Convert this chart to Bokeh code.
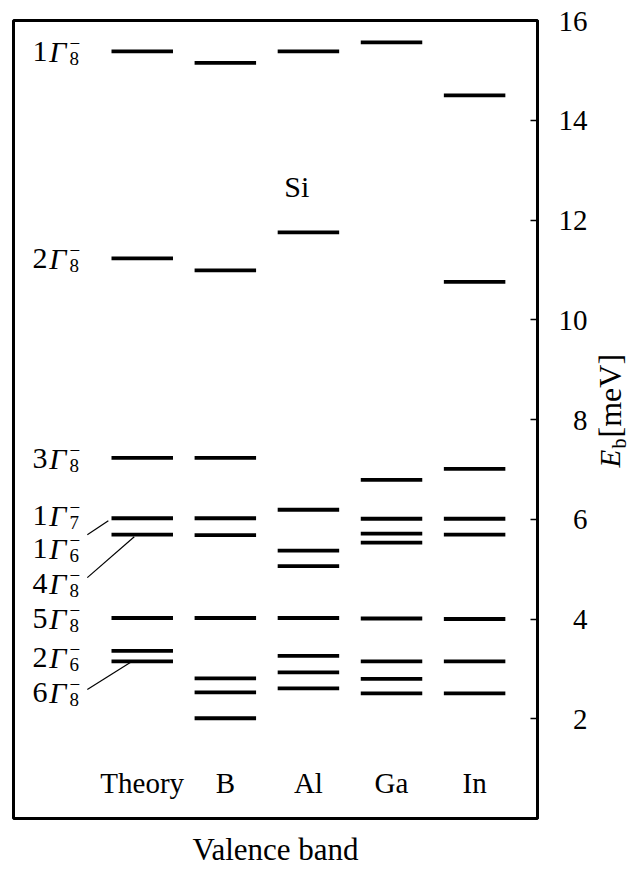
import math
from bokeh.plotting import figure
from bokeh.models import Range1d, FixedTicker
from bokeh.layouts import row
from bokeh.core.properties import value
from bokeh.embed import file_html
from bokeh.resources import INLINE

# ---------------- data ----------------
categories = ["Theory", "B", "Al", "Ga", "In"]
theory_levels = [15.38, 11.23, 7.23, 6.02, 5.69, 4.02, 3.36, 3.15]
b_levels = [15.15, 10.99, 7.23, 6.02, 5.68, 4.02, 2.81, 2.53, 2.01]
al_levels = [15.38, 11.75, 6.19, 5.37, 5.06, 4.02, 3.26, 2.93, 2.61]
ga_levels = [15.56, 6.79, 6.01, 5.71, 5.53, 4.01, 3.15, 2.80, 2.51]
in_levels = [14.50, 10.76, 7.01, 6.01, 5.69, 4.00, 3.15, 2.51]

state_numbers = ["1", "2", "3", "1", "1", "4", "5", "2", "6"]
state_subscripts = ["8", "8", "8", "7", "6", "8", "8", "6", "8"]
state_label_E = [15.38, 11.22, 7.22, 6.08, 5.42, 4.72, 4.02, 3.22, 2.52]

# leader lines: label end (x0, y0) -> theory level (x1, y1)
leader_x0 = [0.339, 0.339, 0.339]
leader_y0 = [5.69, 4.83, 2.585]
leader_x1 = [0.592, 0.904, 0.856]
leader_y1 = [5.97, 5.65, 3.126]

y_ticks = [2, 4, 6, 8, 10, 12, 14, 16]
y_axis_title = ["E", "b", "[meV]"]
x_axis_title = "Valence band"
material = "Si"

FONT = "Liberation Serif"
TOP, BOTTOM = 20, 52
H = 870

# ---------------- main figure ----------------
p = figure(width=590, height=H,
           x_range=Range1d(-0.5495, 5.757), y_range=Range1d(0, 16),
           x_axis_location="below", y_axis_location="right",
           output_backend="svg", toolbar_location=None,
           min_border_left=13, min_border_top=TOP,
           min_border_right=52, min_border_bottom=BOTTOM)
p.background_fill_color = "white"
p.border_fill_color = "white"
p.outline_line_color = "black"
p.outline_line_width = 3
p.grid.grid_line_color = None

ax = p.yaxis[0]
ax.ticker = FixedTicker(ticks=y_ticks)
ax.major_label_overrides = {t: (str(t) if t >= 10 else "\u2007" + str(t)) for t in y_ticks}
ax.axis_line_width = 3
ax.axis_line_color = "black"
ax.major_tick_in = 7
ax.major_tick_out = 0
ax.major_tick_line_width = 1.5
ax.minor_tick_line_color = None
ax.major_label_standoff = 21
ax.major_label_text_font = FONT
ax.major_label_text_font_size = "29px"
ax.major_label_text_color = "black"

bx = p.xaxis[0]
bx.ticker = FixedTicker(ticks=[])
bx.axis_line_color = None
bx.major_tick_line_color = None
bx.minor_tick_line_color = None
bx.major_label_text_font_size = "0px"
bx.axis_label = x_axis_title
bx.axis_label_text_font = FONT
bx.axis_label_text_font_size = "31px"
bx.axis_label_text_font_style = "normal"
bx.axis_label_text_color = "black"
bx.axis_label_standoff = 13

# levels
all_levels = [theory_levels, b_levels, al_levels, ga_levels, in_levels]
half = 0.37
xs0, xs1, ys = [], [], []
for i, lv in enumerate(all_levels):
    cx = i + 1
    for e in lv:
        xs0.append(cx - half)
        xs1.append(cx + half)
        ys.append(e)
p.segment(x0=xs0, y0=ys, x1=xs1, y1=ys,
          line_color="black", line_width=3.8, line_cap="butt")

# leaders
p.segment(x0=leader_x0, y0=leader_y0, x1=leader_x1, y1=leader_y1,
          line_color="black", line_width=1.2)

# category labels
p.text(x=[i + 1 for i in range(len(categories))], y=[0.72] * len(categories),
       text=categories, text_font=value(FONT), text_font_size="29px",
       text_align="center", text_baseline="alphabetic", text_color="black")

# Si label
p.text(x=[2.86], y=[12.67], text=[material], text_font=value(FONT),
       text_font_size="30px", text_align="center", text_baseline="middle",
       text_color="black")

# state labels: number + italic Gamma + subscript + superscript minus
xg = 1 + (66 - 142) / 83.25
n = len(state_numbers)
p.text(x=[xg] * n, y=state_label_E, text=["Γ"] * n, text_font=value(FONT),
       text_font_style="italic", text_font_size="30px", text_align="right",
       text_baseline="middle", text_color="black")
p.text(x=[xg] * n, y=state_label_E, text=state_numbers, text_font=value(FONT),
       text_font_size="30px", text_align="right", text_baseline="middle",
       x_offset=-19, text_color="black")
p.text(x=[xg] * n, y=state_label_E, text=state_subscripts, text_font=value(FONT),
       text_font_size="19px", text_align="left", text_baseline="middle",
       x_offset=3, y_offset=7, text_color="black")
p.text(x=[xg] * n, y=state_label_E, text=["\u2212"] * n, text_font=value(FONT),
       text_font_size="19px", text_align="left", text_baseline="middle",
       x_offset=3, y_offset=-8, text_color="black")

# ---------------- y-axis title strip ----------------
q = figure(width=42, height=H, x_range=Range1d(0, 42), y_range=Range1d(0, 16),
           x_axis_location=None, y_axis_location=None,
           output_backend="svg", toolbar_location=None,
           min_border_left=0, min_border_right=0,
           min_border_top=TOP, min_border_bottom=BOTTOM)
q.outline_line_color = None
q.grid.grid_line_color = None
q.background_fill_color = "white"
q.border_fill_color = "white"
q.text(x=[19], y=[7.04], text=[y_axis_title[0]], angle=math.pi / 2,
       text_font=value(FONT), text_font_style="italic", text_font_size="29px",
       text_align="left", text_baseline="middle", text_color="black")
q.text(x=[28], y=[7.42], text=[y_axis_title[1]], angle=math.pi / 2,
       text_font=value(FONT), text_font_size="20px",
       text_align="left", text_baseline="middle", text_color="black")
q.text(x=[19], y=[7.64], text=[y_axis_title[2]], angle=math.pi / 2,
       text_font=value(FONT), text_font_size="32px",
       text_align="left", text_baseline="middle", text_color="black")

layout = row(p, q, spacing=0)
open("out.html", "w").write(file_html(layout, INLINE))
